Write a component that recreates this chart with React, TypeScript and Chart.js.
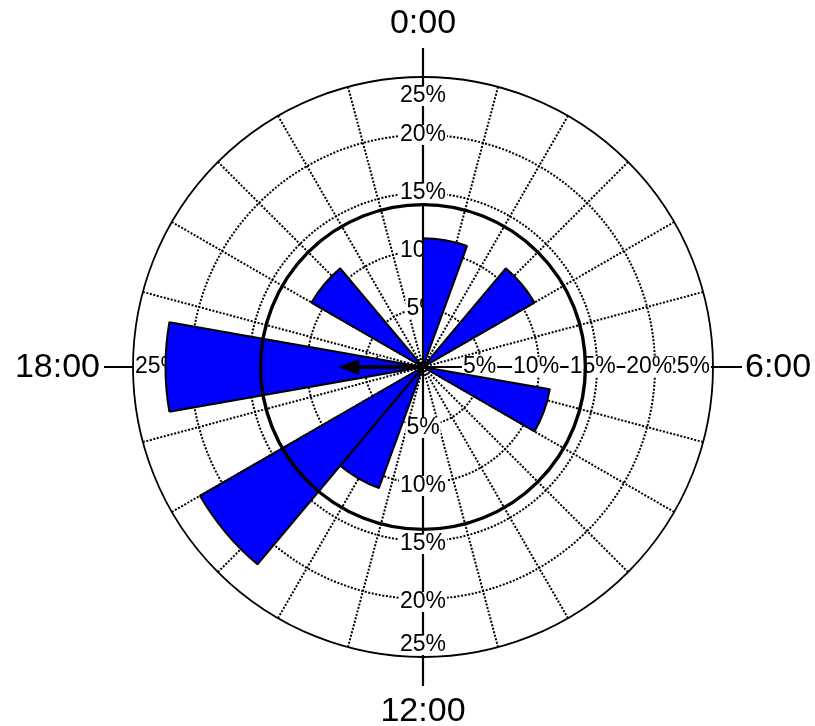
import React, { useEffect, useRef } from 'react';
import { Chart, registerables } from 'chart.js';

Chart.register(...registerables);

// 18 bins of 80 minutes (20 degrees) each, starting at 0:00
const binStartLabels = ['0:00', '1:20', '2:40', '4:00', '5:20', '6:40', '8:00', '9:20', '10:40', '12:00', '13:20', '14:40', '16:00', '17:20', '18:40', '20:00', '21:20', '22:40'];
const binPercents = [11.1, 0, 11.1, 0, 0, 11.1, 0, 0, 0, 0, 11.1, 22.2, 0, 22.2, 0, 11.1, 0, 0];

const radialTicks = [5, 10, 15, 20, 25];
const radialTickLabels = ['5%', '10%', '15%', '20%', '25%'];
const hourLabels = ['0:00', '6:00', '12:00', '18:00'];
const hourAngles = [0, 90, 180, 270];
const significanceLevel = 14;
const meanVectorHour = 18;
const meanVectorLength = 7.3;

const FONT = '"Liberation Sans", Arial, Helvetica, sans-serif';

function pt(cx: number, cy: number, r: number, deg: number) {
  const a = (deg * Math.PI) / 180;
  return { x: cx + r * Math.sin(a), y: cy - r * Math.cos(a) };
}

function labelWithBg(ctx: CanvasRenderingContext2D, text: string, x: number, y: number, align: CanvasTextAlign) {
  const w = ctx.measureText(text).width;
  let left = x - w / 2;
  if (align === 'left') left = x;
  if (align === 'right') left = x - w;
  ctx.fillStyle = '#fff';
  ctx.fillRect(left - 1, y - 10, w + 2, 20);
  ctx.fillStyle = '#000';
  ctx.textAlign = align;
  ctx.fillText(text, x, y);
}

const roseDecor = {
  id: 'roseDecor',
  beforeDatasetsDraw(chart: any) {
    const ctx: CanvasRenderingContext2D = chart.ctx;
    const s = chart.scales.r;
    const cx = s.xCenter;
    const cy = s.yCenter;
    const maxVal = radialTicks[radialTicks.length - 1];
    const R = s.getDistanceFromCenterForValue(maxVal);
    ctx.save();
    // dotted grid circles
    ctx.strokeStyle = '#000';
    ctx.lineWidth = 2;
    ctx.setLineDash([2, 1.6]);
    radialTicks.slice(0, -1).forEach((v) => {
      ctx.beginPath();
      ctx.arc(cx, cy, s.getDistanceFromCenterForValue(v), 0, Math.PI * 2);
      ctx.stroke();
    });
    // dotted radial lines every hour (15 deg)
    for (let a = 0; a < 360; a += 15) {
      if (a % 90 === 0) continue;
      const p = pt(cx, cy, R, a);
      ctx.beginPath();
      ctx.moveTo(cx, cy);
      ctx.lineTo(p.x, p.y);
      ctx.stroke();
    }
    ctx.setLineDash([]);
    // outer circle
    ctx.lineWidth = 1.8;
    ctx.beginPath();
    ctx.arc(cx, cy, R, 0, Math.PI * 2);
    ctx.stroke();
    // axes
    ctx.lineWidth = 2.2;
    const ext = R + 29;
    ctx.beginPath();
    ctx.moveTo(cx, cy - ext);
    ctx.lineTo(cx, cy + ext);
    ctx.moveTo(cx - ext, cy);
    ctx.lineTo(cx + ext, cy);
    ctx.stroke();
    // tick labels (outer first)
    ctx.font = `23px ${FONT}`;
    ctx.textBaseline = 'middle';
    for (let i = radialTicks.length - 1; i >= 0; i--) {
      const v = radialTicks[i];
      const t = radialTickLabels[i];
      const d = s.getDistanceFromCenterForValue(v);
      const outer = i === radialTicks.length - 1;
      // top
      labelWithBg(ctx, t, cx, outer ? cy - R + 19 : cy - d, 'center');
      // bottom
      labelWithBg(ctx, t, cx, outer ? cy + R - 12 : cy + d + 3, 'center');
      // right
      if (outer) labelWithBg(ctx, t, cx + R - 3, cy, 'right');
      else labelWithBg(ctx, t, cx + d * 0.975, cy, 'center');
      // left
      if (outer) labelWithBg(ctx, t, cx - R + 2, cy, 'left');
      else labelWithBg(ctx, t, cx - d * 0.975, cy, 'center');
    }
    // hour labels
    ctx.font = `34px ${FONT}`;
    ctx.fillStyle = '#000';
    hourLabels.forEach((t, i) => {
      const a = hourAngles[i];
      if (a === 0) { ctx.textAlign = 'center'; ctx.fillText(t, cx, cy - R - 53); }
      else if (a === 180) { ctx.textAlign = 'center'; ctx.fillText(t, cx, cy + R + 55); }
      else if (a === 90) { ctx.textAlign = 'left'; ctx.fillText(t, cx + R + 32, cy + 1); }
      else { ctx.textAlign = 'right'; ctx.fillText(t, cx - R - 33, cy + 1); }
    });
    ctx.restore();
  },
  afterDatasetsDraw(chart: any) {
    const ctx: CanvasRenderingContext2D = chart.ctx;
    const s = chart.scales.r;
    const cx = s.xCenter;
    const cy = s.yCenter;
    ctx.save();
    // significance circle
    ctx.strokeStyle = '#000';
    ctx.lineWidth = 3.4;
    ctx.beginPath();
    ctx.arc(cx, cy, s.getDistanceFromCenterForValue(significanceLevel), 0, Math.PI * 2);
    ctx.stroke();
    // mean vector arrow
    const ang = (meanVectorHour / 24) * 360;
    const L = s.getDistanceFromCenterForValue(meanVectorLength);
    const headLen = 21;
    const headHalf = 8;
    const tip = pt(cx, cy, L, ang);
    const base = pt(cx, cy, L - headLen, ang);
    ctx.lineWidth = 4;
    ctx.beginPath();
    ctx.moveTo(cx, cy);
    ctx.lineTo(base.x, base.y);
    ctx.stroke();
    const a = (ang * Math.PI) / 180;
    const px = Math.cos(a);
    const py = Math.sin(a);
    ctx.fillStyle = '#000';
    ctx.beginPath();
    ctx.moveTo(tip.x, tip.y);
    ctx.lineTo(base.x + px * headHalf, base.y + py * headHalf);
    ctx.lineTo(base.x - px * headHalf, base.y - py * headHalf);
    ctx.closePath();
    ctx.fill();
    ctx.restore();
  },
};

export default function App() {
  const ref = useRef<HTMLCanvasElement>(null);
  useEffect(() => {
    const chart = new Chart(ref.current as HTMLCanvasElement, {
      type: 'polarArea',
      data: {
        labels: binStartLabels,
        datasets: [
          {
            data: binPercents,
            backgroundColor: '#0000ff',
            borderColor: '#000000',
            borderWidth: 2,
          },
        ],
      },
      options: {
        responsive: false,
        animation: false,
        events: [],
        layout: { padding: { left: 133, right: 102, top: 77, bottom: 69 } },
        plugins: { legend: { display: false }, tooltip: { enabled: false } },
        scales: {
          r: {
            min: 0,
            max: 25,
            startAngle: 0,
            ticks: { display: false, stepSize: 5 },
            grid: { display: false },
            angleLines: { display: false },
            pointLabels: { display: false },
          },
        },
      } as any,
      plugins: [roseDecor],
    });
    return () => chart.destroy();
  }, []);
  return (
    <div style={{ position: 'fixed', left: 0, top: 0, width: 815, height: 726, background: '#fff' }}>
      <canvas ref={ref} width={815} height={726} style={{ display: 'block' }} />
    </div>
  );
}
